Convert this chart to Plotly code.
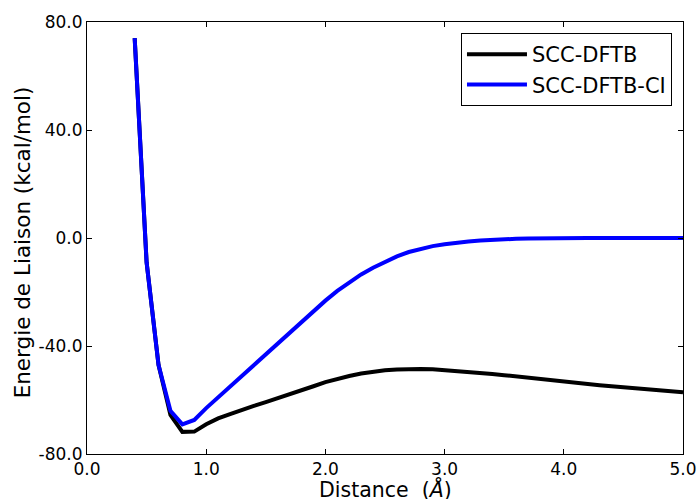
import plotly.graph_objects as go

distance = [0.4, 0.5, 0.6, 0.7, 0.8, 0.9, 1.0, 1.1, 1.2, 1.3, 1.4, 1.5, 1.6, 1.7, 1.8, 1.9,
            2.0, 2.1, 2.2, 2.3, 2.4, 2.5, 2.6, 2.7, 2.8, 2.9, 3.0, 3.1, 3.2, 3.3, 3.4, 3.5,
            3.6, 3.7, 3.8, 3.9, 4.0, 4.1, 4.2, 4.3, 4.4, 4.5, 4.6, 4.7, 4.8, 4.9, 5.0]

scc_dftb = [74.0, -9.0, -47.0, -65.5, -71.8, -71.7, -69.0, -66.8, -65.2, -63.6, -62.2, -60.8,
            -59.4, -57.9, -56.4, -54.9, -53.4, -52.2, -51.1, -50.2, -49.5, -49.0, -48.7, -48.5,
            -48.5, -48.6, -48.9, -49.2, -49.6, -50.0, -50.4, -50.8, -51.3, -51.8, -52.3, -52.8,
            -53.2, -53.7, -54.1, -54.5, -54.9, -55.3, -55.7, -56.1, -56.4, -56.8, -57.1]

scc_dftb_ci = [74.0, -9.0, -47.0, -64.0, -69.0, -67.4, -63.0, -59.0, -55.2, -51.2, -47.0, -43.2,
               -39.0, -35.0, -31.0, -27.0, -23.2, -19.6, -16.4, -13.5, -11.0, -8.8, -6.8, -5.2,
               -4.0, -3.0, -2.3, -1.7, -1.3, -0.9, -0.6, -0.4, -0.3, -0.2, -0.1, -0.1,
               0.0, 0.0, 0.0, 0.0, 0.0, 0.0, 0.0, 0.0, 0.0, 0.0, 0.0]

x_ticks = [0.0, 1.0, 2.0, 3.0, 4.0, 5.0]
x_tick_labels = ["0.0", "1.0", "2.0", "3.0", "4.0", "5.0"]
y_ticks = [-80.0, -40.0, 0.0, 40.0, 80.0]
y_tick_labels = ["-80.0", "-40.0", "0.0", "40.0", "80.0"]

x_title = "Distance  (<i>Å</i>)"
y_title = "Energie de Liaison (kcal/mol)"

font_family = "DejaVu Sans"

fig = go.Figure()
fig.add_trace(go.Scatter(x=distance, y=scc_dftb, mode="lines", name="SCC-DFTB",
                         line=dict(color="black", width=4)))
fig.add_trace(go.Scatter(x=distance, y=scc_dftb_ci, mode="lines", name="SCC-DFTB-CI",
                         line=dict(color="#0000ff", width=4)))

axis_common = dict(showline=True, linecolor="black", linewidth=1, mirror="ticks",
                   ticks="inside", ticklen=5, tickcolor="black", showgrid=False,
                   zeroline=False, automargin=False,
                   tickfont=dict(family=font_family, size=17, color="black"))

fig.update_xaxes(range=[0, 5], tickvals=x_ticks, ticktext=x_tick_labels, **axis_common)
fig.update_yaxes(range=[-80, 80], tickvals=y_ticks, ticktext=y_tick_labels, **axis_common)

fig.add_annotation(text=x_title, xref="paper", yref="paper", x=0.5, y=-0.081,
                   xanchor="center", yanchor="middle", showarrow=False,
                   font=dict(family=font_family, size=20.5, color="black"))
fig.add_annotation(text=y_title, xref="paper", yref="paper", x=-0.109, y=0.49,
                   xanchor="center", yanchor="middle", showarrow=False, textangle=-90,
                   font=dict(family=font_family, size=21.5, color="black"))

fig.update_layout(
    width=699, height=499,
    margin=dict(l=87, r=16, t=22, b=45),
    plot_bgcolor="white", paper_bgcolor="white",
    font=dict(family=font_family, size=17, color="black"),
    showlegend=True,
    legend=dict(x=0.9815, y=0.9745, xanchor="right", yanchor="top",
                bordercolor="black", borderwidth=1, bgcolor="white",
                font=dict(family=font_family, size=21, color="black"),
                itemwidth=60),
)

fig.write_html("out.html", config={"displayModeBar": False},
               post_script="document.body.style.margin='0';document.body.style.padding='0';")
